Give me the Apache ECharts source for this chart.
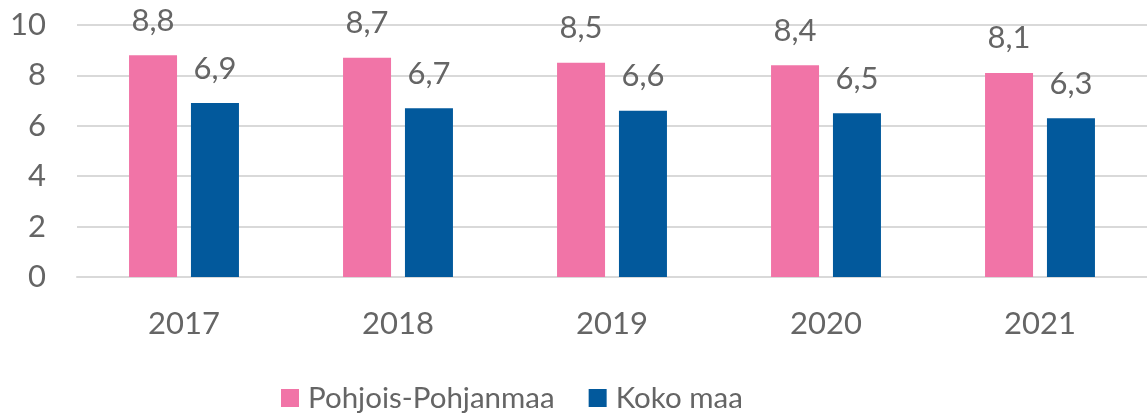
<!DOCTYPE html>
<html>
<head>
<meta charset="utf-8">
<script src="https://cdn.jsdelivr.net/npm/echarts@6/dist/echarts.min.js"></script>
<style>
html,body{margin:0;padding:0;background:#fff;}
#chart{width:1147px;height:420px;}
</style>
</head>
<body>
<div id="chart"></div>
<script>
const categories = ['2017', '2018', '2019', '2020', '2021'];
const pohjoisPohjanmaa = [8.8, 8.7, 8.5, 8.4, 8.1];
const kokoMaa = [6.9, 6.7, 6.6, 6.5, 6.3];
const seriesNames = ['Pohjois-Pohjanmaa', 'Koko maa'];
const yTicks = { min: 0, max: 10, interval: 2 };

const FONT = 'Lato';
const GRAY = '#656565';
const fmt = p => String(p.value).replace('.', ',');

const chart = echarts.init(document.getElementById('chart'));
chart.setOption({
  animation: false,
  textStyle: { fontFamily: FONT },
  grid: { left: 77, right: -9, top: 25, bottom: 143 },
  legend: {
    left: 276, top: 378,
    itemWidth: 18, itemHeight: 18, itemGap: 34,
    icon: 'rect',
    textStyle: { fontFamily: FONT, fontSize: 29.5, color: GRAY, padding: [0, 0, 0, 4] },
    data: seriesNames
  },
  xAxis: {
    type: 'category',
    data: categories,
    axisLine: { show: true, lineStyle: { color: '#d9d9d9', width: 2 } },
    axisTick: { show: false },
    axisLabel: { fontFamily: FONT, fontSize: 31, color: GRAY, margin: 31 }
  },
  yAxis: {
    type: 'value',
    min: yTicks.min, max: yTicks.max, interval: yTicks.interval,
    axisLine: { show: false },
    axisTick: { show: false },
    splitLine: { lineStyle: { color: '#d9d9d9', width: 2 } },
    axisLabel: { fontFamily: FONT, fontSize: 31, color: GRAY, margin: 31 }
  },
  series: [
    {
      name: seriesNames[0], type: 'bar', data: pohjoisPohjanmaa,
      barWidth: 48, barGap: '29%',
      itemStyle: { color: '#f174a7' },
      label: { show: true, position: 'top', distance: 19, formatter: fmt, fontFamily: FONT, fontSize: 31, color: GRAY }
    },
    {
      name: seriesNames[1], type: 'bar', data: kokoMaa,
      barWidth: 48,
      itemStyle: { color: '#02599c' },
      label: { show: true, position: 'top', distance: 19, formatter: fmt, fontFamily: FONT, fontSize: 31, color: GRAY }
    }
  ]
});
</script>
</body>
</html>
